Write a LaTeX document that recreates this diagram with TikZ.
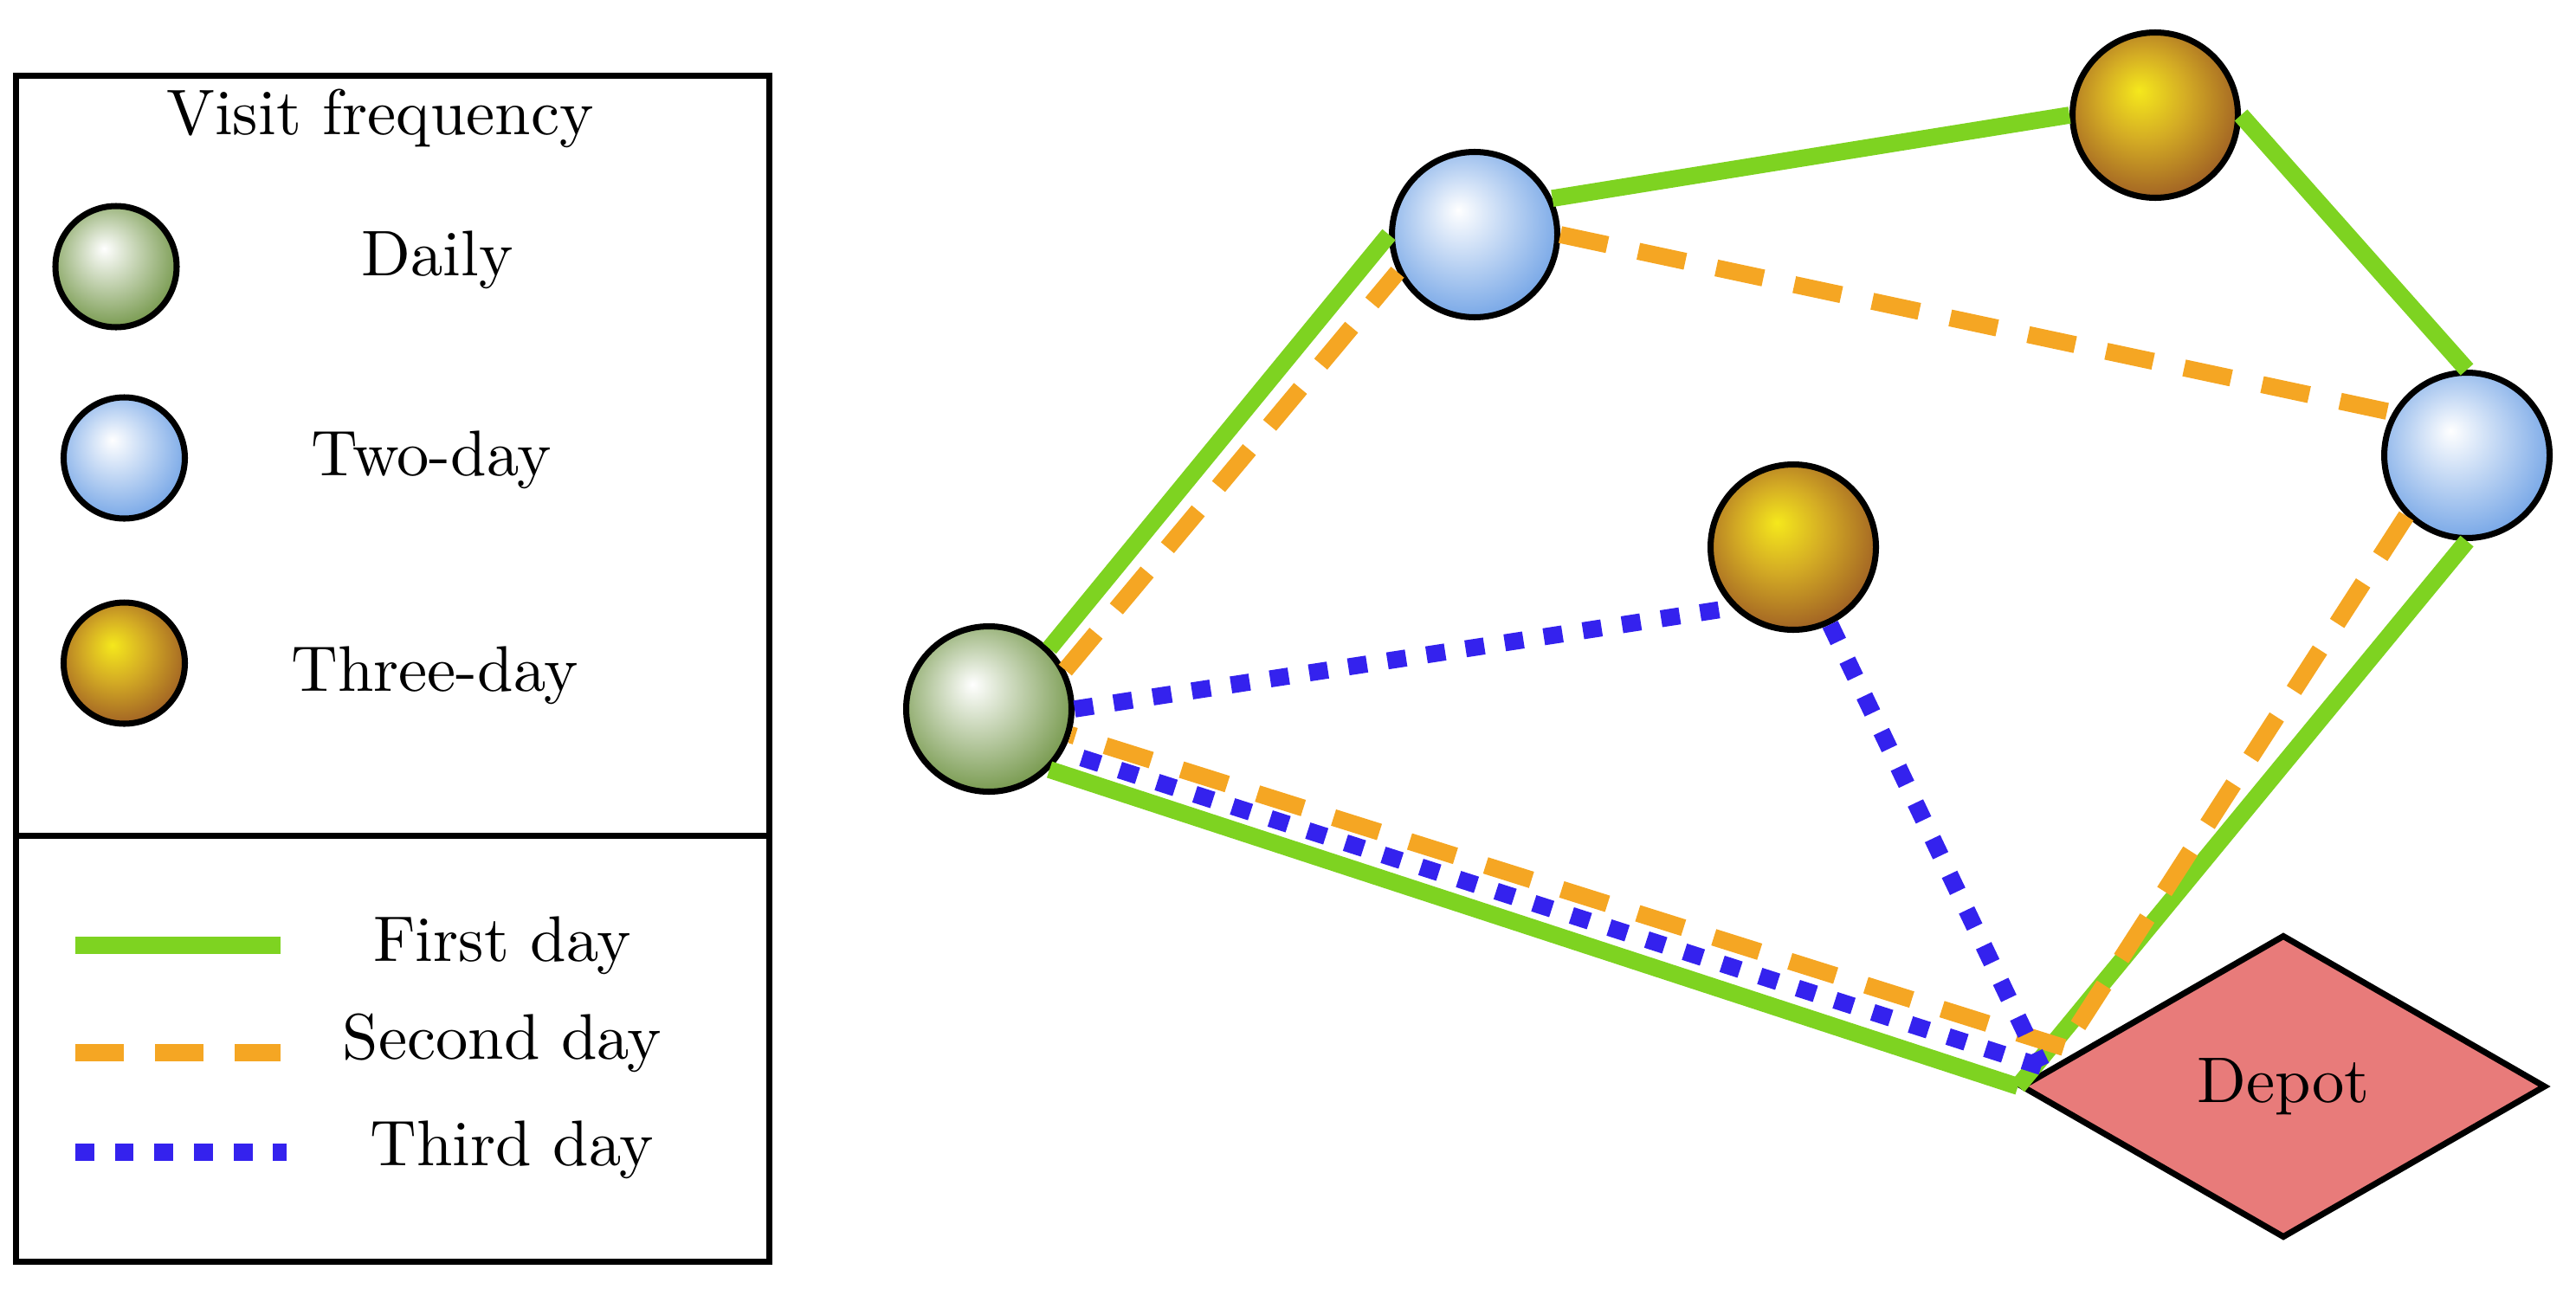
\documentclass[tikz,border=0pt]{standalone}
\usepackage{tikz}
\usetikzlibrary{arrows,shapes,positioning,calc}
\definecolor{firstcol}{RGB}{126,211,33}
\definecolor{secondcol}{RGB}{245,166,35}
\definecolor{thirdcol}{RGB}{52,34,238}
\definecolor{depotcol}{RGB}{232,123,122}
\definecolor{dailyedge}{RGB}{104,142,58}
\definecolor{twodayedge}{RGB}{104,157,228}
\definecolor{threedaycore}{RGB}{245,232,28}
\definecolor{threedaymid}{RGB}{212,172,36}
\definecolor{threedayedge}{RGB}{150,82,36}
\pgfdeclareradialshading{dailyball}{\pgfpoint{-5bp}{7.5bp}}{color(0bp)=(white); color(32bp)=(dailyedge); color(50bp)=(dailyedge)}
\pgfdeclareradialshading{twodayball}{\pgfpoint{-5bp}{7.5bp}}{color(0bp)=(white); color(32bp)=(twodayedge); color(50bp)=(twodayedge)}
\pgfdeclareradialshading{threedayball}{\pgfpoint{-5bp}{7.5bp}}{color(0bp)=(threedaycore); color(13bp)=(threedaymid); color(32bp)=(threedayedge); color(50bp)=(threedayedge)}

\begin{document}
\begin{tikzpicture}[
    font=\fontsize{10.6pt}{12.7pt}\selectfont,
    customer/.style={circle, draw=black, line width=1pt, minimum size=0.955cm, inner sep=0pt},
    daily/.style={customer, shade, shading=dailyball},
    twoday/.style={customer, shade, shading=twodayball},
    threeday/.style={customer, shade, shading=threedayball},
    legendball/.style={minimum size=0.70cm},
    depotnode/.style={diamond, draw=black, line width=1pt, fill=depotcol,
                 minimum width=3.03cm, minimum height=1.75cm, inner sep=0pt},
    legendtext/.style={anchor=base},
    firstday/.style={line width=2.8pt, firstcol},
    secondday/.style={line width=2.8pt, secondcol, dash pattern=on 7.9pt off 5.2pt},
    thirdday/.style={line width=2.8pt, thirdcol, dash pattern=on 3.1pt off 3.4pt}
  ]
    \useasboundingbox (0,0) rectangle (14.875,7.44);

    % legend
    \draw[line width=1pt] (0.093,0.155) rectangle (4.4425,7.0035);
    \draw[line width=1pt] (0.093,2.615) -- (4.4425,2.615);
    \node[legendtext] (title) at (2.195,6.66) {Visit frequency};
    \node[daily, legendball] (legdaily) at (0.67,5.90) {};
    \node[twoday, legendball] (legtwo) at (0.7175,4.795) {};
    \node[threeday, legendball] (legthree) at (0.7175,3.61) {};
    \node[legendtext] (txtdaily) at (2.525,5.85) {Daily};
    \node[legendtext] (txttwo) at (2.49,4.695) {Two-day};
    \node[legendtext] (txtthree) at (2.51,3.45) {Three-day};

    \coordinate (firststart) at (0.435,1.98);
    \coordinate (firstend) at (1.62,1.98);
    \coordinate (secondstart) at (0.435,1.36);
    \coordinate (secondend) at (1.62,1.36);
    \coordinate (thirdstart) at (0.435,0.785);
    \coordinate (thirdend) at (1.655,0.785);
    \draw[firstday] (firststart) -- (firstend);
    \draw[secondday] (secondstart) -- (secondend);
    \draw[thirdday] (thirdstart) -- (thirdend);
    \node[legendtext] (txtfirst) at (2.9,1.89) {First day};
    \node[legendtext] (txtsecond) at (2.9,1.325) {Second day};
    \node[legendtext] (txtthird) at (2.955,0.71) {Third day};

    % customers and depot
    \node[daily] (daily) at (5.71,3.345) {};
    \node[twoday] (twoA) at (8.515,6.085) {};
    \node[threeday] (threeA) at (12.445,6.775) {};
    \node[twoday] (twoB) at (14.245,4.81) {};
    \node[threeday] (threeB) at (10.355,4.28) {};
    \node[depotnode] (depot) at (13.185,1.165) {Depot};

    \coordinate (secondin) at ([shift={(0.265,0.225)}]depot.west);
    \coordinate (thirdin) at ([shift={(0.135,0.115)}]depot.west);

    % first day
    \draw[firstday] (depot.west) -- (daily.south east);
    \draw[firstday] (daily.north east) -- (twoA.west);
    \draw[firstday] (twoA.25) -- (threeA.west);
    \draw[firstday] (threeA.east) -- (twoB.north);
    \draw[firstday] (twoB.south) -- (depot.west);

    % second day
    \draw[secondday] (daily.27) -- (twoA.206);
    \draw[secondday] (twoA.east) -- (twoB.150);
    \draw[secondday] (twoB.south west) -- (secondin);
    \draw[secondday] (secondin) -- (daily);

    % third day
    \draw[thirdday] (daily.east) -- (threeB.south west);
    \draw[thirdday] (threeB) -- (thirdin);
    \draw[thirdday] (thirdin) -- (daily.-30);
  \end{tikzpicture}
\end{document}
